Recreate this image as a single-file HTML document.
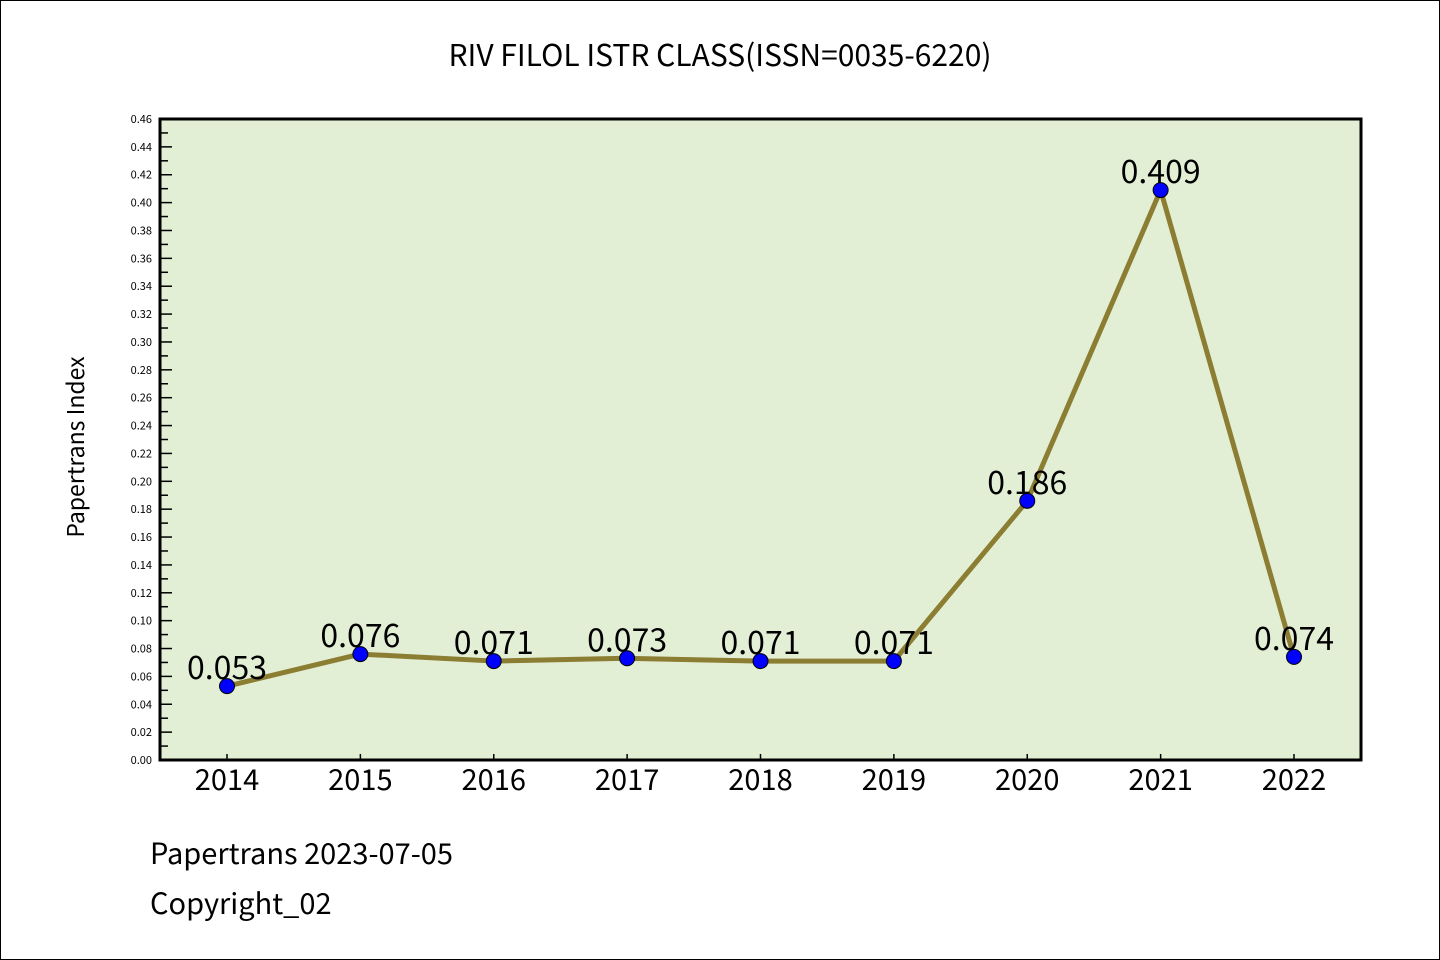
<!DOCTYPE html>
<html><head><meta charset="utf-8"><style>
body{margin:0;background:#fff}
svg{display:block}
text{font-family:"WenQuanYi Zen Hei","Noto Sans CJK SC","Liberation Sans",sans-serif}
</style></head><body>
<svg id="c" width="1440" height="960">
<rect x="0.5" y="0.5" width="1439" height="959" fill="#fff" stroke="#000"/>
<text x="720" y="66" text-anchor="middle" font-size="30">RIV FILOL ISTR CLASS(ISSN=0035-6220)</text>
<text transform="translate(84,447) rotate(-90)" text-anchor="middle" font-size="23">Papertrans Index</text>
<text x="150" y="864" font-size="29">Papertrans 2023-07-05</text>
<text x="150" y="914" font-size="29">Copyright_02</text>
</svg>
<script>
const categories=["2014","2015","2016","2017","2018","2019","2020","2021","2022"];
const values=[0.053,0.076,0.071,0.073,0.071,0.071,0.186,0.409,0.074];
const valueLabels=["0.053","0.076","0.071","0.073","0.071","0.071","0.186","0.409","0.074"];
const yTicks=[0,0.02,0.04,0.06,0.08,0.10,0.12,0.14,0.16,0.18,0.20,0.22,0.24,0.26,0.28,0.30,0.32,0.34,0.36,0.38,0.40,0.42,0.44,0.46];
const svg=document.getElementById('c');
const NS='http://www.w3.org/2000/svg';
const L=160,T=119,R=1361,B=760,YMAX=0.46;
const x0=227,x1=1294;
function xs(i){return x0+(x1-x0)*i/(categories.length-1);}
function ys(v){return B-(B-T)*v/YMAX;}
function mk(tag,a){const e=document.createElementNS(NS,tag);for(const k in a)e.setAttribute(k,a[k]);svg.appendChild(e);return e;}
const bg=mk('rect',{x:L,y:T,width:R-L,height:B-T,fill:'#e2efd5'});


yTicks.forEach((v,i)=>{
  const y=ys(v);
  const t=mk('line',{x1:L,x2:L+12,y1:y,y2:y,stroke:'#000','stroke-width':1.5});
  
  
  const lb=mk('text',{x:152,y:y+4,'text-anchor':'end','font-size':11,'font-family':'DejaVu Sans, sans-serif'});
  lb.textContent=v.toFixed(2);
  
  
  if(i<yTicks.length-1){
    const ym=ys(v+0.01);
    const m=mk('line',{x1:L,x2:L+8,y1:ym,y2:ym,stroke:'#000','stroke-width':1.5});
    
    
  }
});
categories.forEach((c,i)=>{
  const x=xs(i);
  const t=mk('line',{x1:x,x2:x,y1:B,y2:B-6,stroke:'#000','stroke-width':1.5});
  
  
  const lb=mk('text',{x:x,y:790,'text-anchor':'middle','font-size':29,'font-family':'DejaVu Sans, sans-serif'});
  lb.textContent=c;
  
  
});
const pts=values.map((v,i)=>xs(i)+','+ys(v)).join(' ');
const line=mk('polyline',{points:pts,fill:'none',stroke:'#8b7d32','stroke-width':5,'stroke-linejoin':'round'});


values.forEach((v,i)=>{
  const p=mk('circle',{cx:xs(i),cy:ys(v),r:7.5,fill:'#0000ff',stroke:'#000','stroke-width':1});
  
  
  const lb=mk('text',{x:xs(i),y:ys(v)-7,'text-anchor':'middle','font-size':32});
  lb.textContent=valueLabels[i];
  
  
});
const border=mk('rect',{x:L,y:T,width:R-L,height:B-T,fill:'none',stroke:'#000','stroke-width':3});


</script>
</body></html>
